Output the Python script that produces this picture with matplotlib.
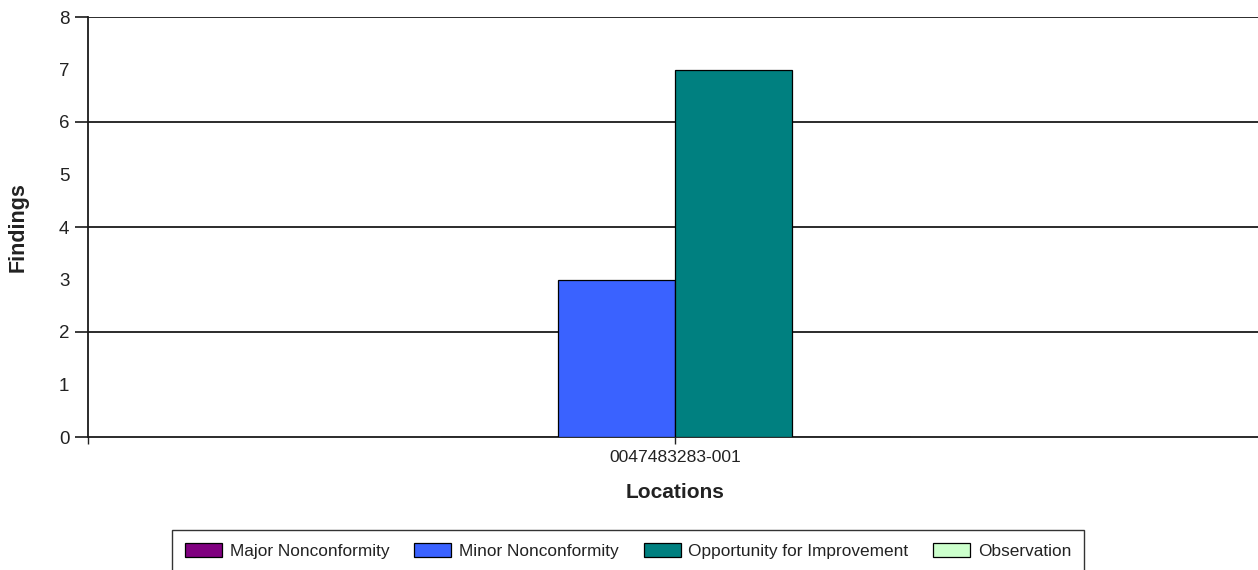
import matplotlib
matplotlib.use("Agg")
import matplotlib.pyplot as plt
import numpy as np

plt.rcParams['font.family'] = ['Liberation Sans', 'DejaVu Sans']

locations = ["0047483283-001"]
series_names = ["Major Nonconformity", "Minor Nonconformity",
                "Opportunity for Improvement", "Observation"]
series_values = [[0], [3], [7], [0]]
series_colors = ["#800080", "#3A62FF", "#008080", "#CCFFCC"]

fig = plt.figure(figsize=(12.58, 5.70), dpi=100)
ax = fig.add_axes([88/1258, 1-437/570, (1262-88)/1258, (437-17)/570])

n = len(series_names)
width = 0.1
x = np.arange(len(locations))
handles = []
for i, (name, vals, col) in enumerate(zip(series_names, series_values, series_colors)):
    off = (i - (n-1)/2) * width
    b = ax.bar(x + off, vals, width, color=col, edgecolor='black', linewidth=0.9,
               label=name, zorder=3)
    handles.append(b)

ax.set_xlim(-0.5, 0.5)
ax.set_ylim(0, 8)
ax.set_yticks(range(0, 9))
ax.set_yticklabels([str(v) for v in range(0, 9)], fontsize=13.5, color='#222222')
for i, t in enumerate(ax.yaxis.get_major_ticks()):
    if i % 2 == 1:
        t.tick1line.set_visible(False)
for v in range(2, 9, 2):
    ax.axhline(v, color='#1a1a1a', linewidth=1.3, zorder=1)

ax.set_xticks(x)
ax.set_xticklabels(locations, fontsize=12.6, color='#222222')
ax.set_xticks([-0.5], minor=True)
ax.tick_params(axis='x', which='both', length=5, width=1, direction='out', pad=4, color='#222222')
ax.tick_params(axis='y', length=9.5, width=1.2, direction='out', pad=4, color='#1a1a1a')

ax.spines['top'].set_visible(False)
ax.spines['right'].set_visible(False)
ax.spines['left'].set_linewidth(1.3)
ax.spines['bottom'].set_linewidth(1.3)
ax.spines['left'].set_color('#1a1a1a')
ax.spines['bottom'].set_color('#1a1a1a')

ax.set_ylabel("Findings", fontsize=15.5, fontweight='bold', labelpad=22, color='#222222')
ax.set_xlabel("Locations", fontsize=15, fontweight='bold', labelpad=13, color='#222222')

leg = fig.legend(handles=handles, labels=series_names, loc='upper left',
                 bbox_to_anchor=(172/1258, 1-530/570), bbox_transform=fig.transFigure,
                 ncol=4, fontsize=12.4, frameon=True, fancybox=False, borderaxespad=0,
                 handlelength=2.15, handleheight=0.9, handletextpad=0.45,
                 columnspacing=1.45, borderpad=0.75)
leg.get_frame().set_edgecolor('black')
leg.get_frame().set_linewidth(1.0)
for t in leg.get_texts():
    t.set_color('#222222')

fig.savefig("out.png", dpi=100)
